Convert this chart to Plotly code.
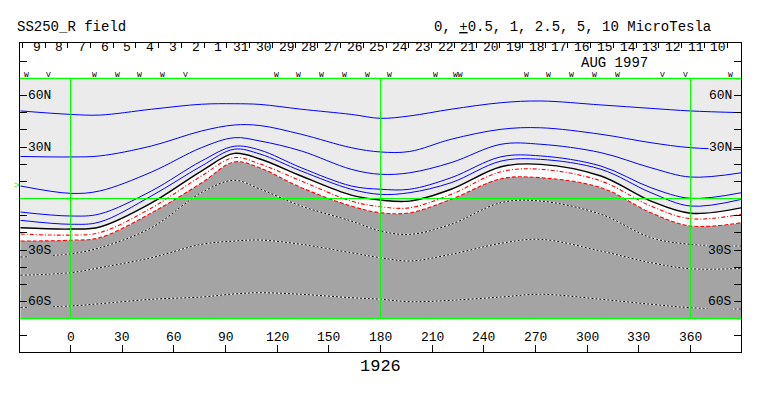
import plotly.graph_objects as go

# ---------------- data (Carrington longitude, latitude in degrees) ----------------
lon = [-29, 0, 17, 47, 76, 95, 110, 134, 163, 180, 197, 221, 250, 273, 308, 337, 360, 389.6]

pos_10  = [51.0, 49.0, 48.6, 52.0, 54.9, 55.2, 54.8, 52.0, 49.0, 46.7, 48.1, 52.0, 55.8, 56.8, 54.5, 52.5, 51.0, 50.0]
pos_5   = [24.5, 24.2, 24.8, 30.6, 39.3, 42.8, 42.5, 37.4, 29.6, 27.1, 27.4, 34.5, 40.3, 41.2, 37.4, 32.5, 29.6, 28.5]
pos_2_5 = [7.3, 3.0, 4.4, 15.4, 29.6, 35.4, 33.5, 27.7, 17.0, 14.1, 15.0, 20.9, 31.6, 31.6, 26.7, 17.9, 12.5, 15.0]
pos_1   = [-7.9, -10.2, -9.0, 4.4, 21.8, 30.4, 28.2, 17.9, 7.3, 5.4, 5.4, 12.1, 24.3, 24.8, 18.9, 6.3, 0.1, 3.4]
pos_0_5 = [-12.7, -15.0, -13.7, 1.5, 18.9, 28.7, 25.9, 16.0, 5.4, 2.4, 3.4, 9.2, 21.8, 22.8, 17.0, 3.4, -4.4, -0.5]
neutral = [-17.0, -17.8, -16.6, -2.6, 16.0, 26.3, 23.0, 13.1, 2.0, -0.9, -1.5, 5.4, 18.5, 19.9, 13.1, -1.5, -8.6, -5.4]
neg_0_5 = [-20.7, -21.3, -19.9, -5.5, 13.1, 23.8, 20.1, 10.2, -1.5, -4.8, -5.4, 2.4, 15.6, 17.0, 10.2, -4.4, -11.8, -9.2]
neg_1   = [-24.8, -24.3, -22.8, -8.4, 9.0, 21.3, 17.8, 6.3, -4.4, -8.3, -8.3, -0.5, 11.5, 12.1, 6.3, -8.3, -16.0, -14.1]
neg_2_5 = [-34.1, -32.2, -28.7, -17.0, 3.4, 10.6, 5.5, -4.4, -13.1, -18.9, -20.9, -15.0, -2.4, -1.5, -9.2, -22.8, -26.7, -27.7]
neg_5   = [-44.7, -43.2, -40.3, -34.5, -26.7, -24.8, -24.2, -26.7, -31.6, -34.5, -36.4, -32.5, -26.1, -23.8, -30.6, -37.4, -40.9, -40.7]
neg_10  = [-63.5, -62.6, -61.3, -58.7, -57.4, -55.6, -54.9, -55.8, -57.8, -58.7, -60.1, -59.3, -57.4, -55.8, -58.7, -61.6, -63.6, -64.4]

lat_limits = [-70, 70]
grid_lons = [0, 180, 360]
grid_lats = [-70, 0, 70]
sub_earth_lat = 7.3

xtick_vals = [0, 30, 60, 90, 120, 150, 180, 210, 240, 270, 300, 330, 360]
xtick_text = ["0", "30", "60", "90", "120", "150", "180", "210", "240", "270", "300", "330", "360"]
ytick_vals = [-80, -70, -60, -50, -40, -30, -20, -10, 0, 10, 20, 30, 40, 50, 60, 70, 80]
ylab_vals = [60, 30, -30, -60]
ylab_text = ["60N", "30N", "30S", "60S"]

day_dates = ([f"1997-09-{d:02d}" for d in range(9, 0, -1)] +
             [f"1997-08-{d:02d}" for d in range(31, 9, -1)])
day_labels = [str(int(d[-2:])) for d in day_dates]
date_range = ["1997-09-10 02:26", "1997-08-09 09:13"]

obs_dates = ["1997-09-09", "1997-09-08", "1997-09-06", "1997-09-05", "1997-09-04", "1997-09-03",
             "1997-09-02", "1997-08-29", "1997-08-28", "1997-08-27", "1997-08-26", "1997-08-25",
             "1997-08-24", "1997-08-22", "1997-08-21", "1997-08-18", "1997-08-17", "1997-08-16",
             "1997-08-15", "1997-08-14", "1997-08-12", "1997-08-11", "1997-08-09"]
obs_marks = ["W", "V", "W", "W", "W", "W", "V", "W", "W", "W", "W", "W", "W", "W", "WW",
             "W", "W", "W", "W", "W", "V", "V", "W"]

rotation = "1926"

# ---------------- styles ----------------
LIGHT = "#ebebeb"
DARK = "#a4a4a4"
GREEN = "#00ff00"
FONT = "Liberation Mono"

fig = go.Figure()

# fills
fig.add_trace(go.Scatter(x=lon, y=[lat_limits[0]] * len(lon), mode="lines",
                         line=dict(width=0, shape="spline"), hoverinfo="skip"))
fig.add_trace(go.Scatter(x=lon, y=neg_1, mode="lines", fill="tonexty", fillcolor=DARK,
                         line=dict(width=0, shape="spline"), hoverinfo="skip"))
fig.add_trace(go.Scatter(x=lon, y=neutral, mode="lines", fill="tonexty", fillcolor="white",
                         line=dict(width=0, shape="spline"), hoverinfo="skip"))

# positive contours (blue)
for s in [pos_10, pos_5, pos_2_5, pos_1, pos_0_5]:
    fig.add_trace(go.Scatter(x=lon, y=s, mode="lines",
                             line=dict(color="#0000ff", width=1, shape="spline"), hoverinfo="skip"))
# weak negative contours (red)
fig.add_trace(go.Scatter(x=lon, y=neg_0_5, mode="lines",
                         line=dict(color="#ff0000", width=1.1, shape="spline", dash="4px,2px,1px,2px"),
                         hoverinfo="skip"))
fig.add_trace(go.Scatter(x=lon, y=neg_1, mode="lines",
                         line=dict(color="#ff0000", width=1.1, shape="spline", dash="4px,2px"),
                         hoverinfo="skip"))
# stronger negative contours (black/white dotted)
for s in [neg_2_5, neg_5, neg_10]:
    fig.add_trace(go.Scatter(x=lon, y=s, mode="lines",
                             line=dict(color="white", width=1, shape="spline"), hoverinfo="skip"))
    fig.add_trace(go.Scatter(x=lon, y=s, mode="lines",
                             line=dict(color="black", width=1, shape="spline", dash="2px,2px"),
                             hoverinfo="skip"))

# neutral line
fig.add_trace(go.Scatter(x=lon, y=neutral, mode="lines",
                         line=dict(color="black", width=1.4, shape="spline"), hoverinfo="skip"))

# dummy trace to activate the date axis on top
fig.add_trace(go.Scatter(x=[day_dates[15]], y=[10], xaxis="x2", mode="markers",
                         marker=dict(size=1, opacity=0), hoverinfo="skip"))

# green grid lines (drawn above the contours)
shapes = [dict(type="rect", xref="paper", x0=0, x1=1, yref="y", y0=lat_limits[0], y1=lat_limits[1],
               fillcolor=LIGHT, line=dict(width=0), layer="below")]
for g in grid_lats:
    shapes.append(dict(type="line", xref="paper", x0=0, x1=1, yref="y", y0=g, y1=g,
                       line=dict(color=GREEN, width=1.2), layer="above"))
for g in grid_lons:
    shapes.append(dict(type="line", xref="x", x0=g, x1=g, yref="y", y0=lat_limits[0], y1=lat_limits[1],
                       line=dict(color=GREEN, width=1), layer="above"))

annotations = []
# latitude labels
for v, t in zip(ylab_vals, ylab_text):
    bg = LIGHT if v > 0 else DARK
    annotations.append(dict(x=0.0097, xref="paper", y=v, yref="y", text=t, showarrow=False,
                            xanchor="left", yanchor="middle", bgcolor=bg, borderpad=0,
                            font=dict(family=FONT, size=13, color="black")))
    annotations.append(dict(x=0.989, xref="paper", y=v, yref="y", text=t, showarrow=False,
                            xanchor="right", yanchor="middle", bgcolor=bg, borderpad=0,
                            font=dict(family=FONT, size=13, color="black")))
# longitude labels
for v, t in zip(xtick_vals, xtick_text):
    annotations.append(dict(x=v, xref="x", y=-80.8, yref="y", text=t, showarrow=False,
                            xanchor="center", yanchor="middle", borderpad=0,
                            font=dict(family=FONT, size=13, color="black")))
# day labels
for d, t in zip(day_dates, day_labels):
    annotations.append(dict(x=d + " 09:00", xref="x2", y=87.9, yref="y", text=t, showarrow=False,
                            xanchor="center", yanchor="middle", borderpad=0,
                            font=dict(family=FONT, size=13, color="black")))
# observation markers
for d, t in zip(obs_dates, obs_marks):
    annotations.append(dict(x=d + " 20:00", xref="x2", y=72.0, yref="y", text=t, showarrow=False,
                            xanchor="center", yanchor="middle", borderpad=0,
                            font=dict(family=FONT, size=8, color="black")))
annotations += [
    dict(x=316, xref="x", y=79.2, yref="y", text="AUG 1997", showarrow=False, borderpad=0,
         xanchor="center", yanchor="middle", font=dict(family=FONT, size=14, color="black")),
    dict(x=-0.007, xref="paper", y=1.052, yref="paper", text="SS250_R field", showarrow=False,
         xanchor="left", yanchor="middle", font=dict(family=FONT, size=14, color="black")),
    dict(x=0.571, xref="paper", y=1.052, yref="paper",
         text='0, <span style="text-decoration:underline">+</span>0.5, 1, 2.5, 5, 10 MicroTesla',
         showarrow=False, xanchor="left", yanchor="middle",
         font=dict(family=FONT, size=14, color="black")),
    dict(x=180, xref="x", y=-0.0485, yref="paper", text=rotation, showarrow=False,
         xanchor="center", yanchor="middle", font=dict(family=FONT, size=17, color="black")),
    dict(x=-0.005, xref="paper", y=sub_earth_lat, yref="y", text=">", showarrow=False,
         xanchor="center", yanchor="middle", font=dict(family=FONT, size=9, color=GREEN)),
]

fig.update_layout(
    width=763, height=396,
    margin=dict(l=20, r=22, t=43, b=44),
    paper_bgcolor="white", plot_bgcolor="white",
    showlegend=False,
    shapes=shapes,
    xaxis=dict(range=[-29.32, 389.31], showgrid=False, zeroline=False, showline=True,
               linecolor="black", linewidth=1, mirror=True, ticks="inside", ticklen=7,
               tickcolor="black", tickwidth=1, tickvals=xtick_vals, showticklabels=False,
               fixedrange=True),
    xaxis2=dict(overlaying="x", side="top", type="date", range=date_range, showgrid=False,
                zeroline=False, showline=False, ticks="inside", ticklen=5, tickcolor="black",
                tickwidth=1, dtick=86400000, tick0="1997-08-10", showticklabels=False),
    yaxis=dict(range=[-89.42, 90.58], showgrid=False, zeroline=False, showline=True, linecolor="black",
               linewidth=1, mirror="ticks", ticks="inside", ticklen=7, tickcolor="black",
               tickwidth=1, tickvals=ytick_vals, showticklabels=False, fixedrange=True),
    annotations=annotations,
)

fig.write_html("out.html", config={"displayModeBar": False},
               post_script="document.body.style.margin='0px';document.body.style.padding='0px';")
